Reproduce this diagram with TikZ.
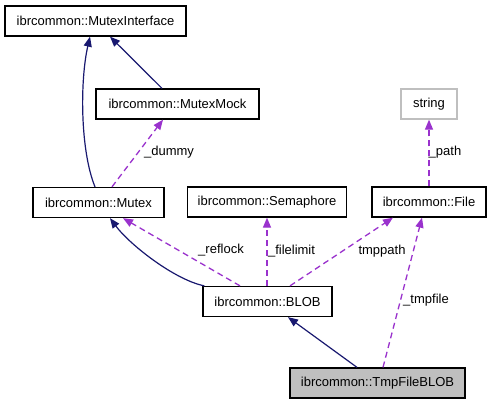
\documentclass[tikz,border=0pt]{standalone}
\usepackage{fontspec}
\setmainfont{Liberation Sans}
\usetikzlibrary{arrows.meta}
\definecolor{navyedge}{HTML}{191970}
\definecolor{purpedge}{HTML}{9A32CD}
\definecolor{grayfill}{HTML}{BFBFBF}
\begin{document}
\begin{tikzpicture}[x=1bp,y=-1bp,
  cls/.style={draw=black,line width=1.3bp,fill=white,inner sep=0pt,minimum height=30bp,font=\fontsize{13bp}{15bp}\selectfont},
  inh/.style={draw=navyedge,line width=1.2bp,-{Triangle[length=10bp,width=8bp]}},
  use/.style={draw=purpedge,line width=1.3bp,dash pattern=on 6bp off 4bp,-{Triangle[length=10bp,width=8bp]}},
  lbl/.style={inner sep=0pt,font=\fontsize{13bp}{15bp}\selectfont}]
\useasboundingbox[fill=white] (0,0) rectangle (492,405);
\node[cls,minimum width=181bp] (MI) at (95.5,21) {ibrcommon::MutexInterface};
\node[cls,minimum width=163bp] (MM) at (177.5,104) {ibrcommon::MutexMock};
\node[cls,minimum width=131bp] (MX) at (98.5,202.5) {ibrcommon::Mutex};
\node[cls,minimum width=159bp] (SEM) at (267,202) {ibrcommon::Semaphore};
\node[cls,minimum width=114bp] (FILE) at (429,202) {ibrcommon::File};
\node[cls,draw=grayfill,minimum width=56bp] (STR) at (429,104) {string};
\node[cls,minimum width=129bp] (BLOB) at (267.5,301.5) {ibrcommon::BLOB};
\node[cls,fill=grayfill,minimum width=175bp] (TMP) at (377.5,383) {ibrcommon::TmpFileBLOB};

\draw[inh] ([xshift=-3.5bp]MX.north) .. controls (80,150) and (80,80) .. ([xshift=-5.5bp]MI.south);
\draw[inh] ([xshift=-15.5bp]MM.north) -- ([xshift=14.5bp]MI.south);
\draw[use] ([xshift=13.5bp]MX.north) -- ([xshift=-14.5bp]MM.south);
\node[lbl] (ldummy) at (169,152) {\_dummy};
\draw[inh] ([xshift=2bp]BLOB.north west) .. controls (175,280) and (130,245) .. ([xshift=11.5bp]MX.south);
\draw[use] ([xshift=-27.5bp]BLOB.north) -- ([xshift=24.5bp]MX.south);
\node[lbl] (lreflock) at (221,250) {\_reflock};
\draw[use] (BLOB.north -| SEM.south) -- (SEM.south);
\node[lbl] (lfilelimit) at (291.5,251) {\_filelimit};
\draw[use] ([xshift=22.5bp]BLOB.north) -- ([xshift=-36bp]FILE.south);
\node[lbl] (ltmppath) at (382,251) {tmppath};
\draw[use] ([xshift=5.5bp]TMP.north) -- ([xshift=-7bp]FILE.south);
\node[lbl] (ltmpfile) at (426,300) {\_tmpfile};
\draw[use] (FILE.north) -- (STR.south);
\node[lbl] (lpath) at (445,152) {\_path};
\draw[inh] ([xshift=-20.5bp]TMP.north) -- ([xshift=20.5bp]BLOB.south);
\end{tikzpicture}
\end{document}
